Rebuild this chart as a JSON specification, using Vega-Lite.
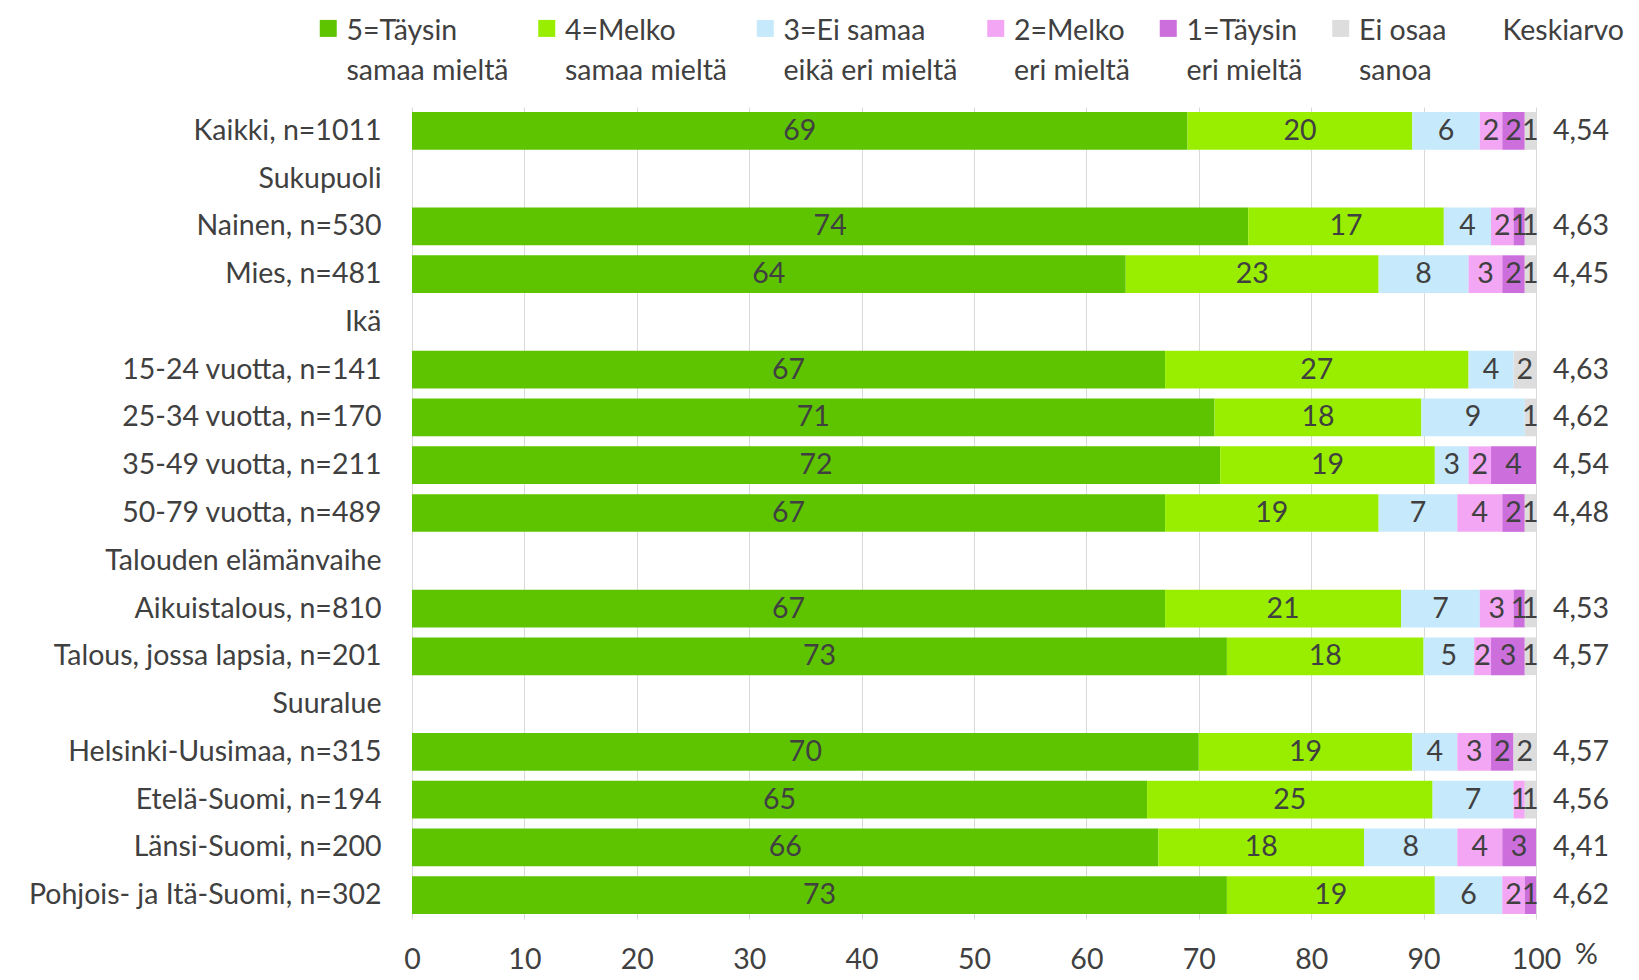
{
  "$schema": "https://vega.github.io/schema/vega-lite/v6.json",
  "width": 1124,
  "height": 812,
  "autosize": "none",
  "padding": {"left": 412, "top": 107, "right": 103, "bottom": 61},
  "config": {
    "view": {"stroke": null},
    "font": "Lato",
    "locale": {"number": {"decimal": ",", "thousands": " ", "grouping": [3], "currency": ["", " €"]}},
    "style": {"guide-label": {"lineHeight": 40}}
  },
  "datasets": {
    "rows": [
      {"g": "Kaikki, n=1011", "t5": 69, "t4": 20, "t3": 6, "t2": 2, "t1": 2, "eos": 1, "m": 4.54},
      {"g": "Nainen, n=530", "t5": 74.4, "t4": 17.4, "t3": 4.2, "t2": 2, "t1": 1, "eos": 1, "m": 4.63},
      {"g": "Mies, n=481", "t5": 63.5, "t4": 22.5, "t3": 8, "t2": 3, "t1": 2, "eos": 1, "m": 4.45},
      {"g": "15-24 vuotta, n=141", "t5": 67, "t4": 27, "t3": 4, "t2": 0, "t1": 0, "eos": 2, "m": 4.63},
      {"g": "25-34 vuotta, n=170", "t5": 71.4, "t4": 18.4, "t3": 9.2, "t2": 0, "t1": 0, "eos": 1, "m": 4.62},
      {"g": "35-49 vuotta, n=211", "t5": 71.9, "t4": 19.1, "t3": 3, "t2": 2, "t1": 4, "eos": 0, "m": 4.54},
      {"g": "50-79 vuotta, n=489", "t5": 67, "t4": 19, "t3": 7, "t2": 4, "t1": 2, "eos": 1, "m": 4.48},
      {"g": "Aikuistalous, n=810", "t5": 67, "t4": 21, "t3": 7, "t2": 3, "t1": 1, "eos": 1, "m": 4.53},
      {"g": "Talous, jossa lapsia, n=201", "t5": 72.5, "t4": 17.5, "t3": 4.5, "t2": 1.5, "t1": 3, "eos": 1, "m": 4.57},
      {"g": "Helsinki-Uusimaa, n=315", "t5": 70, "t4": 19, "t3": 4, "t2": 3, "t1": 2, "eos": 2, "m": 4.57},
      {"g": "Etelä-Suomi, n=194", "t5": 65.4, "t4": 25.4, "t3": 7.2, "t2": 1, "t1": 0, "eos": 1, "m": 4.56},
      {"g": "Länsi-Suomi, n=200", "t5": 66.4, "t4": 18.3, "t3": 8.3, "t2": 4, "t1": 3, "eos": 0, "m": 4.41},
      {"g": "Pohjois- ja Itä-Suomi, n=302", "t5": 72.5, "t4": 18.5, "t3": 6, "t2": 2, "t1": 1, "eos": 0, "m": 4.62}
    ],
    "cats": [
      {"key": "t5", "label": "5=Täysin|samaa mieltä", "rank": 1},
      {"key": "t4", "label": "4=Melko|samaa mieltä", "rank": 2},
      {"key": "t3", "label": "3=Ei samaa|eikä eri mieltä", "rank": 3},
      {"key": "t2", "label": "2=Melko|eri mieltä", "rank": 4},
      {"key": "t1", "label": "1=Täysin|eri mieltä", "rank": 5},
      {"key": "eos", "label": "Ei osaa|sanoa", "rank": 6}
    ]
  },
  "data": {"name": "rows"},
  "layer": [
    {
      "transform": [
        {"fold": ["t5", "t4", "t3", "t2", "t1", "eos"], "as": ["key", "v"]},
        {"lookup": "key", "from": {"data": {"name": "cats"}, "key": "key", "fields": ["label", "rank"]}}
      ],
      "mark": {"type": "bar"},
      "encoding": {
        "x": {
          "field": "v", "type": "quantitative", "stack": "zero",
          "scale": {"domain": [0, 100], "nice": false},
          "axis": {
            "values": [0, 10, 20, 30, 40, 50, 60, 70, 80, 90, 100],
            "grid": true, "gridColor": "#d9d9d9", "gridWidth": 1,
            "domain": false, "ticks": false,
            "labelPadding": 26, "labelFontSize": 28.5, "labelColor": "#404040", "labelFlush": false,
            "title": "%", "titleX": 1174, "titleY": 35, "titleAlign": "center", "titleBaseline": "middle",
            "titleFontWeight": "normal", "titleFontSize": 28.5, "titleColor": "#404040"
          }
        },
        "y": {
          "field": "g", "type": "nominal", "sort": null,
          "scale": {
            "domain": ["Kaikki, n=1011", "Sukupuoli", "Nainen, n=530", "Mies, n=481", "Ikä", "15-24 vuotta, n=141", "25-34 vuotta, n=170", "35-49 vuotta, n=211", "50-79 vuotta, n=489", "Talouden elämänvaihe", "Aikuistalous, n=810", "Talous, jossa lapsia, n=201", "Suuralue", "Helsinki-Uusimaa, n=315", "Etelä-Suomi, n=194", "Länsi-Suomi, n=200", "Pohjois- ja Itä-Suomi, n=302"],
            "paddingInner": 0.21, "paddingOuter": 0.105
          },
          "axis": {"title": null, "ticks": false, "domain": false, "labelPadding": 31, "labelFontSize": 28.5, "labelLimit": 440, "labelColor": "#404040"}
        },
        "color": {
          "field": "label", "type": "nominal",
          "scale": {
            "domain": ["5=Täysin|samaa mieltä", "4=Melko|samaa mieltä", "3=Ei samaa|eikä eri mieltä", "2=Melko|eri mieltä", "1=Täysin|eri mieltä", "Ei osaa|sanoa", "Keskiarvo|"],
            "range": ["#5ec400", "#99ee00", "#c6e9fb", "#f3a6f3", "#cc6edc", "#dddddd", "rgba(255,255,255,0)"]
          },
          "legend": {
            "orient": "none", "legendX": -98, "legendY": -90, "direction": "horizontal",
            "title": null, "padding": 0,
            "symbolType": "M-1,-1.35H1V0.65H-1Z", "symbolSize": 289, "symbolStrokeWidth": 0,
            "labelExpr": "split(datum.label, '|')", "labelFontSize": 28.5, "labelColor": "#404040",
            "labelOffset": 4, "columnPadding": 23.5, "labelLimit": 300, "labelBaseline": "middle"
          }
        },
        "order": {"field": "rank", "type": "quantitative"}
      }
    },
    {
      "transform": [
        {"fold": ["t5", "t4", "t3", "t2", "t1", "eos"], "as": ["key", "v"]},
        {"lookup": "key", "from": {"data": {"name": "cats"}, "key": "key", "fields": ["label", "rank"]}}
      ],
      "mark": {"type": "text", "fontSize": 28.5, "color": "#404040", "align": "center", "baseline": "middle"},
      "encoding": {
        "x": {"field": "v", "type": "quantitative", "stack": "zero", "bandPosition": 0.5},
        "y": {"field": "g", "type": "nominal", "sort": null},
        "detail": {"field": "label", "type": "nominal"},
        "order": {"field": "rank", "type": "quantitative"},
        "text": {"condition": {"test": "datum.v > 0", "field": "v", "type": "quantitative", "format": ".0f"}, "value": ""}
      }
    },
    {
      "mark": {"type": "text", "fontSize": 28.5, "color": "#404040", "align": "center", "baseline": "middle", "dx": 45},
      "encoding": {
        "x": {"datum": 100, "type": "quantitative"},
        "y": {"field": "g", "type": "nominal", "sort": null},
        "text": {"field": "m", "type": "quantitative", "format": ".2f"}
      }
    }
  ]
}
